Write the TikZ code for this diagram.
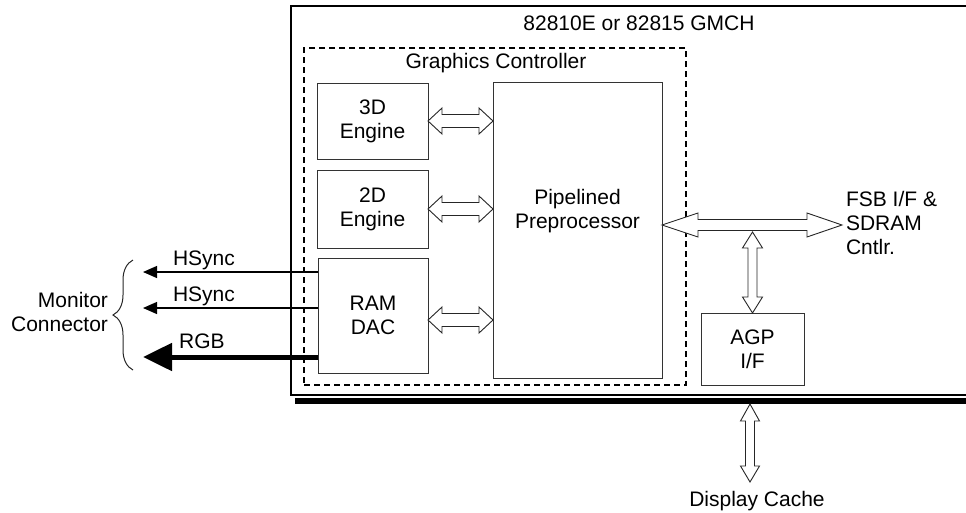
\documentclass[tikz,border=0pt]{standalone}
\usepackage{fontspec}
\setmainfont{Liberation Sans}
\usetikzlibrary{decorations.pathreplacing,arrows.meta,calc}
\newcommand\hdbl[6]{%
\draw[outl] let \p1=#1, \p2=#2 in
 (\x1,\y1) -- (\x1+#5,\y1+#4) -- (\x1+#5,\y1+#3) -- (\x2-#6,\y1+#3) -- (\x2-#6,\y1+#4) -- (\x2,\y1)
 -- (\x2-#6,\y1-#4) -- (\x2-#6,\y1-#3) -- (\x1+#5,\y1-#3) -- (\x1+#5,\y1-#4) -- cycle;}
\newcommand\vdbl[6]{%
\draw[outl] let \p1=#1, \p2=#2 in
 (\x1,\y1) -- (\x1+#4,\y1-#5) -- (\x1+#3,\y1-#5) -- (\x1+#3,\y2+#6) -- (\x1+#4,\y2+#6) -- (\x1,\y2)
 -- (\x1-#4,\y2+#6) -- (\x1-#3,\y2+#6) -- (\x1-#3,\y1-#5) -- (\x1-#4,\y1-#5) -- cycle;}
\begin{document}
\begin{tikzpicture}[x=1pt,y=-1pt,
  every node/.style={inner sep=0pt, outer sep=0pt},
  lbl/.style={font=\fontsize{21}{24}\selectfont, align=center},
  blk/.style={draw=black!80, line width=1pt, font=\fontsize{21}{24}\selectfont, align=center},
  outl/.style={draw=black!85, line width=0.9pt, fill=white, line join=miter},
  gmchbox/.style={draw=black, line width=2.5pt},
  gcbox/.style={draw=black, line width=1.5pt, dash pattern=on 6pt off 4pt},
  sig/.style={draw=black, line width=1.2pt, -{Triangle[length=14pt,width=12pt]}},
  rgbsig/.style={draw=black, line width=5pt, -{Triangle[length=29pt,width=27pt]}},
  bracest/.style={draw=black!85, line width=1pt, decorate, decoration={brace, amplitude=20pt}}
]
\useasboundingbox (0,0) rectangle (966,512);
\begin{scope}
\clip (0,0) rectangle (966,512);
\node[gmchbox, minimum width=729, minimum height=389] (gmch) at (655.5,200.5) {};
\node[fill=black, minimum width=725, minimum height=6] (shadow) at (657.5,401) {};
\end{scope}

\node[lbl] (gmchl) at (639,23) {82810E or 82815 GMCH};
\node[gcbox, minimum width=382, minimum height=337] (gc) at (495,216.5) {};
\node[lbl] (gcl) at (496,63) {Graphics Controller};

\node[blk, minimum width=111, minimum height=76] (e3) at (372.5,121) {3D\\Engine};
\node[blk, minimum width=111, minimum height=78] (e2) at (372.5,209) {2D\\Engine};
\node[blk, minimum width=110, minimum height=115] (dac) at (373,315.5) {RAM\\DAC};
\node[blk, minimum width=169, minimum height=296] (pp) at (577.5,230) {};
\node[lbl] (ppl) at (577.5,211) {Pipelined\\Preprocessor};
\node[blk, minimum width=103, minimum height=72] (agp) at (752.5,349) {AGP\\I/F};

\node[lbl, anchor=west, align=left] (fsbl) at (846,223) {FSB I/F \&\\SDRAM\\Cntlr.};
\node[lbl, anchor=east, align=right] (mon) at (108,312) {Monitor\\Connector};
\node[lbl] (hs1) at (204,260) {HSync};
\node[lbl] (hs2) at (204,296) {HSync};
\node[lbl] (rgb) at (202,341) {RGB};
\node[lbl] (dc) at (757,501) {Display Cache};

% double arrows engines <-> preprocessor
\hdbl{(e3.east)}{(e3.east -| pp.west)}{6.5}{13}{14}{14}
\hdbl{(e2.east)}{(e2.east -| pp.west)}{6.5}{13}{14}{14}
\coordinate (dacport) at (428,320);
\hdbl{(dacport)}{(dacport -| pp.west)}{6.5}{13}{14}{14}

% FSB arrow
\coordinate (fsbtip) at (842,225);
\hdbl{(pp.east |- fsbtip)}{(fsbtip)}{5.5}{12}{36}{35}
\coordinate (fsbshaft) at (752,232);
\vdbl{(agp.north |- fsbshaft)}{(agp.north)}{4.5}{10}{16}{16}

% display cache
\coordinate (dcport) at (750,482);
\vdbl{(shadow.south -| dcport)}{(dcport)}{4.5}{9.5}{17}{16}

% monitor signals
\coordinate (hs1end) at (143,272);
\coordinate (hs2end) at (143,308);
\coordinate (rgbend) at (143,357);
\draw[sig] (dac.west |- hs1end) -- (hs1end);
\draw[sig] (dac.west |- hs2end) -- (hs2end);
\draw[rgbsig] (dac.west |- rgbend) -- (rgbend);

\coordinate (brbot) at (133,370);
\coordinate (brtop) at (133,260);
\draw[bracest] (brbot) -- (brtop);
\end{tikzpicture}
\end{document}
